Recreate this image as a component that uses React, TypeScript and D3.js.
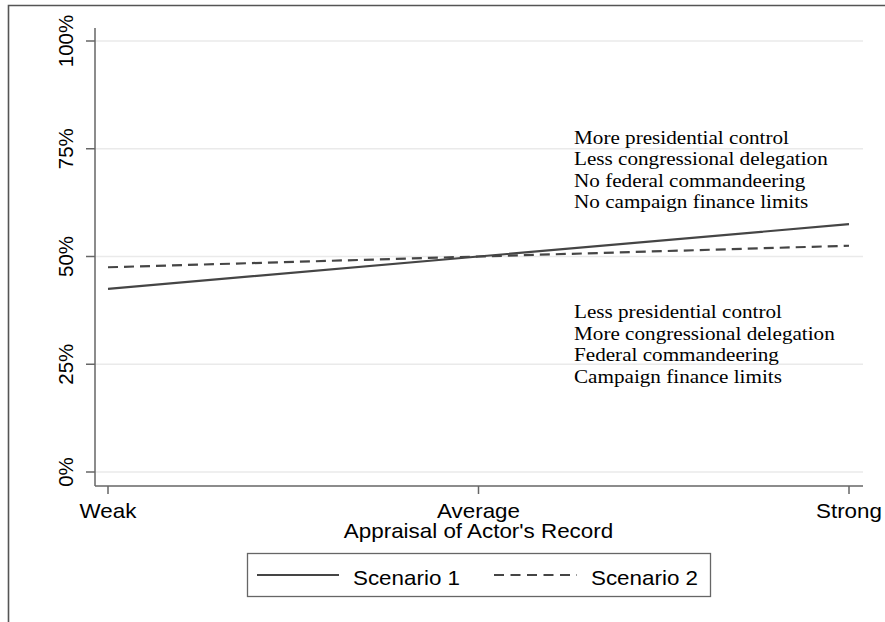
import React from "react";
import * as d3 from "d3";

const categories = ["Weak", "Average", "Strong"];
const scenario1 = [42.5, 50, 57.5];
const scenario2 = [47.5, 50, 52.5];
const yTicks = [0, 25, 50, 75, 100];
const seriesNames = ["Scenario 1", "Scenario 2"];
const upperNotes = [
  "More presidential control",
  "Less congressional delegation",
  "No federal commandeering",
  "No campaign finance limits",
];
const lowerNotes = [
  "Less presidential control",
  "More congressional delegation",
  "Federal commandeering",
  "Campaign finance limits",
];
const xTitle = "Appraisal of Actor's Record";

const W = 885;
const H = 622;
const SX = 1.12;
const sans = "'Liberation Sans', Arial, Helvetica, sans-serif";
const serif = "'Liberation Serif', 'Times New Roman', serif";
const lineColor = "#454545";
const axisColor = "#666666";

function HText(props: {
  x: number;
  y: number;
  anchor?: string;
  size: number;
  family: string;
  children: React.ReactNode;
}) {
  const { x, y, anchor = "start", size, family, children } = props;
  return (
    <g transform={`translate(${x},${y}) scale(${SX},1)`}>
      <text x={0} y={0} textAnchor={anchor} fontSize={size} fontFamily={family} fill="#000">
        {children}
      </text>
    </g>
  );
}

export default function App() {
  const x = d3.scalePoint<string>().domain(categories).range([108, 849]);
  const y = d3.scaleLinear().domain([0, 100]).range([472, 41]);
  const axisX0 = 95;
  const axisX1 = 863;
  const axisY = 486;
  const axisTop = 28;

  const line = d3
    .line<number>()
    .x((_, i) => x(categories[i]) as number)
    .y((d) => y(d));

  return (
    <svg
      width={W}
      height={H}
      style={{ position: "absolute", left: 0, top: 0, background: "#fff" }}
    >
      <rect x={0} y={0} width={W} height={H} fill="#fff" />
      {/* outer border */}
      <path d={`M8.5,${H + 2} L8.5,5.5 L${W + 2},5.5`} fill="none" stroke="#555" strokeWidth={1.6} />

      {/* gridlines */}
      {yTicks.map((t) => (
        <line
          key={"g" + t}
          x1={axisX0}
          x2={axisX1}
          y1={y(t)}
          y2={y(t)}
          stroke="#eaeaea"
          strokeWidth={1.5}
        />
      ))}

      {/* axes */}
      <line x1={axisX0} x2={axisX0} y1={axisTop} y2={axisY} stroke={axisColor} strokeWidth={1.5} />
      <line x1={axisX0} x2={axisX1} y1={axisY} y2={axisY} stroke={axisColor} strokeWidth={1.5} />

      {/* y ticks */}
      {yTicks.map((t) => (
        <g key={"yt" + t}>
          <line x1={86} x2={axisX0} y1={y(t)} y2={y(t)} stroke={axisColor} strokeWidth={1.5} />
          <text
            transform={`translate(73,${y(t)}) rotate(-90)`}
            textAnchor="middle"
            fontSize={20.5}
            fontFamily={sans}
            fill="#000"
          >
            {t + "%"}
          </text>
        </g>
      ))}

      {/* x ticks */}
      {categories.map((c) => (
        <g key={"xt" + c}>
          <line
            x1={x(c)}
            x2={x(c)}
            y1={axisY}
            y2={axisY + 8}
            stroke={axisColor}
            strokeWidth={1.5}
          />
          <HText x={x(c) as number} y={518} anchor="middle" size={20} family={sans}>
            {c}
          </HText>
        </g>
      ))}
      <HText x={478.5} y={538} anchor="middle" size={20} family={sans}>
        {xTitle}
      </HText>

      {/* series */}
      <path d={line(scenario1) || ""} fill="none" stroke={lineColor} strokeWidth={2.2} />
      <path
        d={line(scenario2) || ""}
        fill="none"
        stroke={lineColor}
        strokeWidth={2.2}
        strokeDasharray="10,6"
      />

      {/* annotations */}
      {upperNotes.map((s, i) => (
        <HText key={"u" + i} x={574} y={144 + i * 21.4} size={18.9} family={serif}>
          {s}
        </HText>
      ))}
      {lowerNotes.map((s, i) => (
        <HText key={"l" + i} x={574} y={318 + i * 21.6} size={18.9} family={serif}>
          {s}
        </HText>
      ))}

      {/* legend */}
      <rect x={247.5} y={553.5} width={463} height={43} fill="#fff" stroke="#666" strokeWidth={1.3} />
      <line x1={257} x2={339} y1={575} y2={575} stroke={lineColor} strokeWidth={2} />
      <HText x={353} y={585} size={20} family={sans}>
        {seriesNames[0]}
      </HText>
      <line
        x1={494}
        x2={577}
        y1={575}
        y2={575}
        stroke={lineColor}
        strokeWidth={2}
        strokeDasharray="10,6.5"
      />
      <HText x={591} y={585} size={20} family={sans}>
        {seriesNames[1]}
      </HText>
    </svg>
  );
}
